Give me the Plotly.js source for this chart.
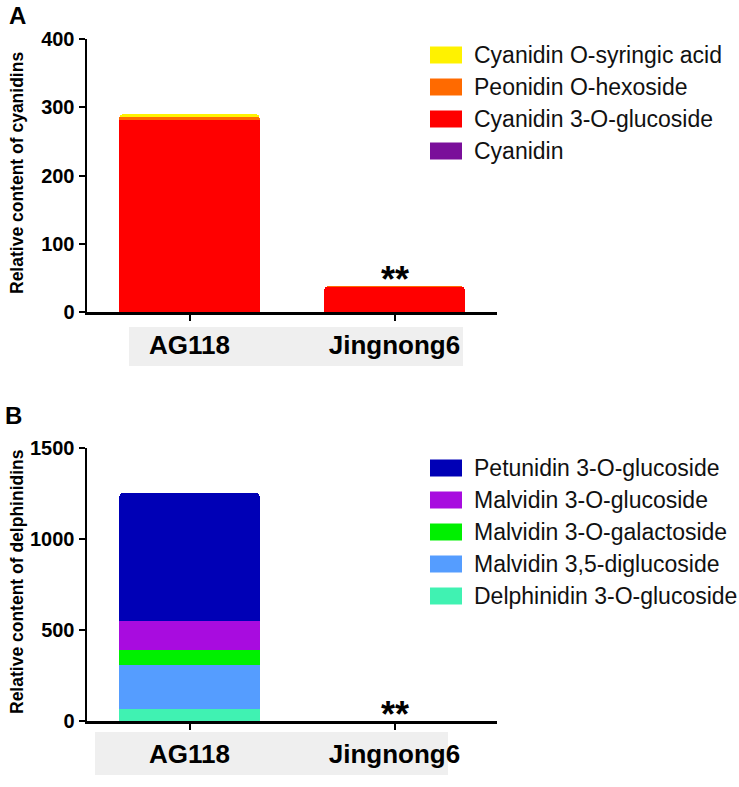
<!DOCTYPE html>
<html>
<head>
<meta charset="utf-8">
<script src="https://cdn.plot.ly/plotly-3.0.1.min.js"></script>
<style>body{margin:0;padding:0;background:#fff}#chart{width:739px;height:787px}</style>
</head>
<body>
<div id="chart"></div>
<script>
// ---------- DATA ----------
const categories = ["AG118", "Jingnong6"];

// Panel A: cyanidins (stack order bottom -> top)
const cyanidinNames  = ["Cyanidin", "Cyanidin 3-O-glucoside", "Peonidin O-hexoside", "Cyanidin O-syringic acid"];
const cyanidinColors = ["#7A0F9A", "#FF0000", "#FF6A00", "#FFF200"];
const cyanidin       = [0.3, 0.1];
const cyanidin3Glc   = [281, 36];
const peonidinHex    = [5, 1.5];
const cyanidinSyr    = [3.5, 0.8];
const cyanidinSeries = [cyanidin, cyanidin3Glc, peonidinHex, cyanidinSyr];
const legendAOrder   = [3, 2, 1, 0];

// Panel B: delphinidins (stack order bottom -> top)
const delphNames  = ["Delphinidin 3-O-glucoside", "Malvidin 3,5-diglucoside", "Malvidin 3-O-galactoside", "Malvidin 3-O-glucoside", "Petunidin 3-O-glucoside"];
const delphColors = ["#40F2B2", "#559DFF", "#00F000", "#A80CDF", "#0000B6"];
const delphinidin3Glc = [68, 0.3];
const malvidin35diGlc = [240, 0.4];
const malvidin3Gal    = [82, 0.2];
const malvidin3Glc    = [161, 0.5];
const petunidin3Glc   = [700, 0.8];
const delphSeries = [delphinidin3Glc, malvidin35diGlc, malvidin3Gal, malvidin3Glc, petunidin3Glc];
const legendBOrder = [4, 3, 2, 1, 0];

const yTicksA = [0, 100, 200, 300, 400];
const yTicksB = [0, 500, 1000, 1500];

// ---------- helpers (pixel -> paper) ----------
const W = 739, H = 787;
const px = x => x / W;
const py = y => 1 - y / H;

const traces = [];
cyanidinSeries.forEach((s, i) => {
  traces.push({type: "bar", x: categories, y: s, name: cyanidinNames[i],
    marker: {color: cyanidinColors[i]}, xaxis: "x", yaxis: "y", showlegend: false, hoverinfo: "name+y"});
});
delphSeries.forEach((s, i) => {
  traces.push({type: "bar", x: categories, y: s, name: delphNames[i],
    marker: {color: delphColors[i]}, xaxis: "x2", yaxis: "y2", showlegend: false, hoverinfo: "name+y"});
});

const totalA = categories.map((c, j) => cyanidinSeries.reduce((a, s) => a + s[j], 0));

const FF = "Liberation Sans, Arial, sans-serif";
const axisFont = {family: FF, size: 20, color: "#000", weight: "bold"};
const catFont  = {family: FF, size: 26, color: "#000", weight: "bold"};

function xAxis(anchor) {
  return {domain: [px(87), px(497)], anchor: anchor, type: "category", range: [-0.5, 1.5],
    showline: true, linecolor: "#000", linewidth: 2.5, ticks: "outside", ticklen: 6, tickwidth: 2,
    tickcolor: "#000", tickfont: catFont, ticklabelstandoff: 2, showgrid: false, zeroline: false, fixedrange: true};
}
function yAxis(anchor, dom, range, ticks) {
  return {domain: dom, anchor: anchor, range: range, tickvals: ticks, ticktext: ticks.map(String),
    showline: true, linecolor: "#000", linewidth: 2.5, ticks: "outside", ticklen: 6, tickwidth: 2,
    tickcolor: "#000", tickfont: axisFont, showgrid: false, zeroline: false, fixedrange: true};
}

const shapes = [
  {type: "rect", xref: "paper", yref: "paper", x0: px(129), x1: px(463), y0: py(366), y1: py(327),
   fillcolor: "#EFEFEF", line: {width: 0}, layer: "below"},
  {type: "rect", xref: "paper", yref: "paper", x0: px(95), x1: px(448), y0: py(775), y1: py(732),
   fillcolor: "#EFEFEF", line: {width: 0}, layer: "below"}
];
const annotations = [
  {text: "A", xref: "paper", yref: "paper", x: px(7), y: py(16), xanchor: "left", yanchor: "middle",
   showarrow: false, font: {family: FF, size: 24, color: "#000", weight: "bold"}},
  {text: "B", xref: "paper", yref: "paper", x: px(3), y: py(415), xanchor: "left", yanchor: "middle",
   showarrow: false, font: {family: FF, size: 24, color: "#000", weight: "bold"}},
  {text: "Relative content of cyanidins", xref: "paper", yref: "paper", x: px(17), y: py(173), textangle: -90,
   xanchor: "center", yanchor: "middle",
   showarrow: false, font: {family: FF, size: 17.5, color: "#000", weight: "bold"}},
  {text: "Relative content of delphinidins", xref: "paper", yref: "paper", x: px(17), y: py(582), textangle: -90,
   xanchor: "center", yanchor: "middle",
   showarrow: false, font: {family: FF, size: 17.5, color: "#000", weight: "bold"}},
  {text: "**", xref: "x", yref: "y", x: categories[1], y: totalA[1], yanchor: "middle", xanchor: "center", yshift: 6,
   showarrow: false, font: {family: FF, size: 36, color: "#000", weight: "bold"}},
  {text: "**", xref: "x2", yref: "y2", x: categories[1], y: 0, yanchor: "middle", xanchor: "center", yshift: 7,
   showarrow: false, font: {family: FF, size: 36, color: "#000", weight: "bold"}}
];

// custom legends
const legFont = {family: FF, size: 23, color: "#111"};
function addLegend(order, names, colors, y0, step) {
  order.forEach((idx, k) => {
    const yc = y0 + k * step;
    shapes.push({type: "rect", xref: "paper", yref: "paper", x0: px(430), x1: px(462),
      y0: py(yc + 8.5), y1: py(yc - 8.5), fillcolor: colors[idx], line: {width: 0}});
    annotations.push({text: names[idx], xref: "paper", yref: "paper", x: px(472), y: py(yc),
      xanchor: "left", yanchor: "middle", showarrow: false, font: legFont});
  });
}
addLegend(legendAOrder, cyanidinNames, cyanidinColors, 55, 32);
addLegend(legendBOrder, delphNames, delphColors, 468, 32);

const layout = {
  width: W, height: H, margin: {l: 0, r: 0, t: 0, b: 0},
  paper_bgcolor: "#fff", plot_bgcolor: "rgba(0,0,0,0)",
  barmode: "stack", bargap: 0.317, showlegend: false,
  xaxis: xAxis("y"), yaxis: yAxis("x", [py(312), py(39)], [0, 400], yTicksA),
  xaxis2: xAxis("y2"), yaxis2: yAxis("x2", [py(721), py(448)], [0, 1500], yTicksB),
  barcornerradius: 3,
  shapes: shapes, annotations: annotations
};

Plotly.newPlot("chart", traces, layout, {displayModeBar: false, staticPlot: true});
</script>
</body>
</html>
